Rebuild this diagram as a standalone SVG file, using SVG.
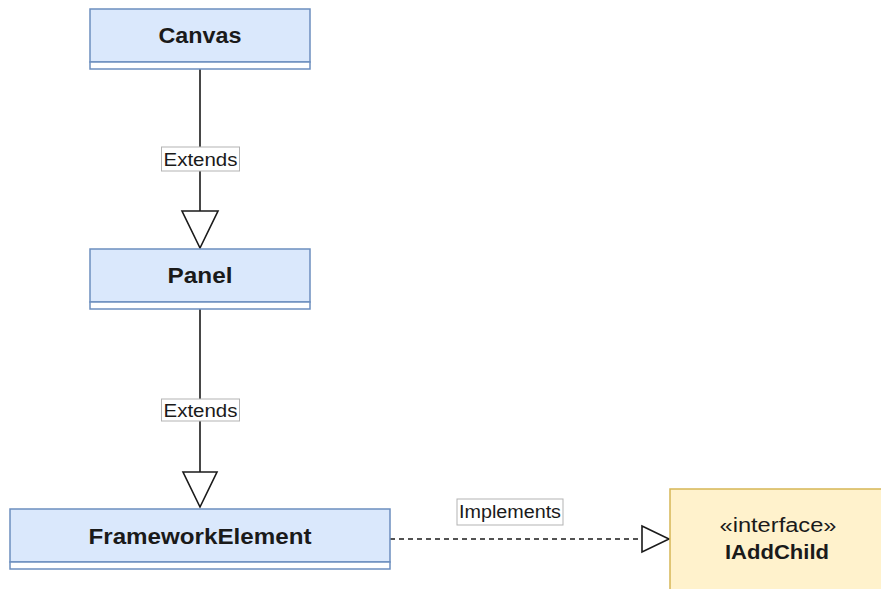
<svg xmlns="http://www.w3.org/2000/svg" width="881" height="589" viewBox="0 0 881 589">
<defs>
<style>
.cls{fill:#dae8fc;stroke:#6c8ebf;stroke-width:1.5}
.cmp{fill:#ffffff;stroke:#6c8ebf;stroke-width:1.5}
.ifc{fill:#fff2cc;stroke:#d6b656;stroke-width:1.5}
.t{font-family:"Liberation Sans",Arial,sans-serif;fill:#1a1a1a;text-anchor:middle}
.b{font-weight:bold;font-size:22px}
.lbl{font-size:18px}
.edge{fill:none;stroke:#1a1a1a;stroke-width:1.6}
.head{fill:#ffffff;stroke:#1a1a1a;stroke-width:1.6}
.lbox{fill:#ffffff;stroke:#b3b3b3;stroke-width:1}
</style>
</defs>
<rect width="881" height="589" fill="#ffffff"/>
<g id="connectors">
<line class="edge" x1="200" y1="69" x2="200" y2="211"/>
<polygon class="head" points="182,211 218,211 200,248"/>
<rect class="lbox" x="161.5" y="147" width="78" height="24"/>
<text class="t lbl" x="200.5" y="166" textLength="74" lengthAdjust="spacingAndGlyphs">Extends</text>
<line class="edge" x1="200" y1="309" x2="200" y2="472"/>
<polygon class="head" points="183,472 217,472 200,507"/>
<rect class="lbox" x="161.5" y="399" width="78" height="22"/>
<text class="t lbl" x="200.5" y="417" textLength="74" lengthAdjust="spacingAndGlyphs">Extends</text>
<line class="edge" x1="390" y1="539" x2="642" y2="539" stroke-dasharray="5 4"/>
<polygon class="head" points="642,526 669,539 642,552"/>
<rect class="lbox" x="457" y="499" width="106" height="26"/>
<text class="t lbl" x="510" y="518" textLength="102" lengthAdjust="spacingAndGlyphs">Implements</text>
</g>
<g id="canvas">
<rect class="cls" x="90" y="9" width="220" height="53"/>
<rect class="cmp" x="90" y="62" width="220" height="7"/>
<text class="t b" x="200" y="43" textLength="83" lengthAdjust="spacingAndGlyphs">Canvas</text>
</g>
<g id="panel">
<rect class="cls" x="90" y="249" width="220" height="53"/>
<rect class="cmp" x="90" y="302" width="220" height="7"/>
<text class="t b" x="200" y="283" textLength="65" lengthAdjust="spacingAndGlyphs">Panel</text>
</g>
<g id="frameworkelement">
<rect class="cls" x="10" y="509" width="380" height="53"/>
<rect class="cmp" x="10" y="562" width="380" height="7"/>
<text class="t b" x="200" y="544" textLength="223" lengthAdjust="spacingAndGlyphs">FrameworkElement</text>
</g>
<g id="iaddchild">
<rect class="ifc" x="670" y="489" width="216" height="110"/>
<text class="t" x="778" y="532" font-size="20" textLength="117" lengthAdjust="spacingAndGlyphs">«interface»</text>
<text class="t" x="777" y="559" font-size="21" font-weight="bold" textLength="104" lengthAdjust="spacingAndGlyphs">IAddChild</text>
</g>
</svg>
